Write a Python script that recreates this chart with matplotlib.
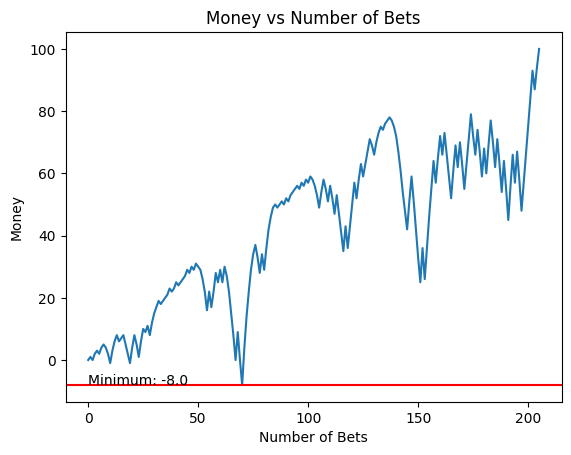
import matplotlib
matplotlib.use("Agg")
import matplotlib.pyplot as plt

money = [
    0, 1, 0, 2, 3, 2, 4, 5, 4, 2,
    -1, 3, 6, 8, 6, 7, 8, 5, 2, -1,
    4, 8, 5, 1, 6, 10, 9, 11, 8, 12,
    15, 17, 19, 18, 19, 20, 21, 23, 22, 23,
    25, 24, 25, 26, 27, 29, 28, 30, 29, 31,
    30, 29, 26, 22, 16, 22, 17, 22, 28, 25,
    29, 25, 30, 27, 22, 15, 8, 0, 9, 0,
    -8, 4, 14, 22, 29, 34, 37, 33, 28, 34,
    29, 36, 42, 46, 49, 50, 49, 50, 51, 50,
    52, 51, 53, 54, 55, 56, 55, 57, 56, 58,
    57, 59, 58, 56, 53, 49, 54, 58, 55, 51,
    56, 52, 47, 53, 47, 41, 35, 43, 36, 43,
    50, 57, 52, 58, 63, 59, 63, 67, 71, 69,
    66, 70, 73, 75, 74, 76, 77, 78, 77, 75,
    72, 67, 61, 54, 48, 42, 51, 59, 51, 42,
    33, 25, 36, 26, 36, 46, 55, 64, 57, 65,
    72, 66, 73, 66, 59, 52, 61, 69, 62, 70,
    63, 55, 63, 71, 79, 72, 66, 74, 67, 59,
    68, 60, 69, 77, 70, 62, 71, 63, 54, 64,
    55, 45, 56, 66, 57, 67, 58, 48, 57, 66,
    75, 84, 93, 87, 94, 100,
]
bets = list(range(len(money)))
minimum = min(money)

fig, ax = plt.subplots(figsize=(6.4, 4.8), dpi=100)
ax.plot(bets, money)
ax.axhline(minimum, color="red")
ax.text(0, minimum, f"Minimum: {float(minimum)}")
ax.set_title("Money vs Number of Bets")
ax.set_xlabel("Number of Bets")
ax.set_ylabel("Money")
fig.savefig("out.png", bbox_inches="tight")
